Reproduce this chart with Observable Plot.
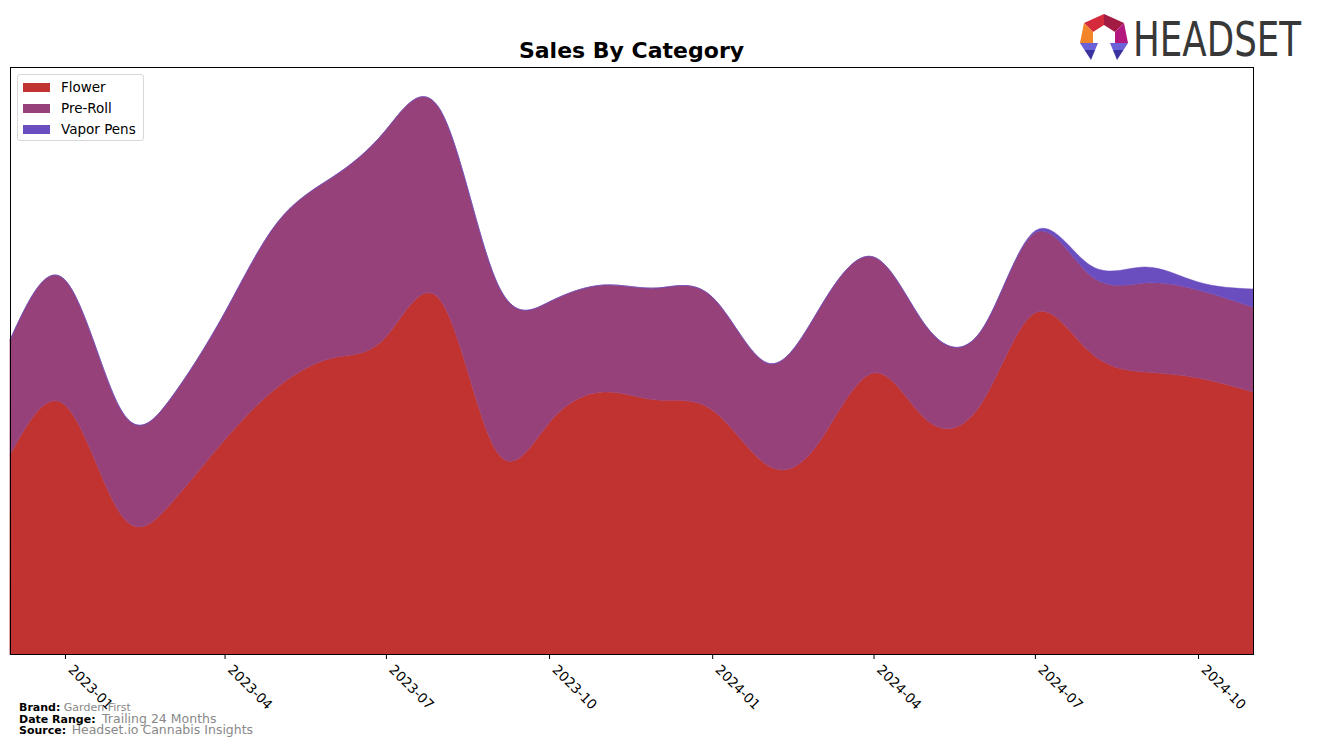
<!DOCTYPE html>
<html><head><meta charset="utf-8">
<script src="https://cdn.jsdelivr.net/npm/d3@7"></script>
<script src="https://cdn.jsdelivr.net/npm/@observablehq/plot@0.6"></script>
<style>
body{margin:0;background:#fff;font-family:"DejaVu Sans",sans-serif;}
#wrap{position:relative;width:1317px;height:747px;overflow:hidden;background:#fff}
#chart{position:absolute;left:0;top:0}
#title{position:absolute;left:10px;width:1243px;top:40px;text-align:center;font-weight:bold;font-size:22px;color:#000;line-height:1}
#legend{position:absolute;left:17px;top:74px;width:125px;height:65px;border:1px solid #d8d8d8;border-radius:3px;background:rgba(255,255,255,0.85)}
.li{position:absolute;left:5px;height:16px;font-size:13.5px;line-height:16px;color:#000}
.sw{position:absolute;left:0;top:4px;width:27px;height:9px}
.lt{position:absolute;left:38px;top:0;white-space:nowrap}
#footer{position:absolute;left:19px;top:701px;font-size:11px;line-height:11px;color:#000}
#footer div{position:absolute;left:0;white-space:nowrap}
#footer b{font-weight:bold}
.g{color:#888}
#logo{position:absolute;left:1078px;top:12px;overflow:visible}
</style></head>
<body>
<div id="wrap">
  <div id="chart"></div>
  <div id="title">Sales By Category</div>
  <div id="legend"></div>
  <div id="footer">
    <div style="top:1px"><b>Brand:</b> <span class="g" style="font-size:11px">Garden First</span></div>
    <div style="top:12px"><b>Date Range:</b> <span class="g" style="font-size:12.5px;margin-left:3px">Trailing 24 Months</span></div>
    <div style="top:23px"><b>Source:</b> <span class="g" style="font-size:12.5px;margin-left:2px">Headset.io Cannabis Insights</span></div>
  </div>
  <svg id="logo" width="239" height="52" viewBox="0 0 239 52">
    <polygon points="6,11 26,2 26,13 15,20" fill="#d42a3c"/>
    <polygon points="26,2 46,11 37,20 26,13" fill="#a31a42"/>
    <polygon points="46,11 50,31 37,31 37,20" fill="#b4187f"/>
    <polygon points="6,11 15,20 15,31 2,31" fill="#f2842a"/>
    <polygon points="2,31 20,31 17.1,38 6.5,38" fill="#6b62da"/>
    <polygon points="6.5,38 17.1,38 13,48" fill="#3a339f"/>
    <polygon points="32,31 50,31 45.5,38 34.9,38" fill="#6b62da"/>
    <polygon points="34.9,38 45.5,38 39,48" fill="#3a339f"/>
    <text x="74" y="44" transform="scale(0.743,1)" font-family="DejaVu Sans" font-size="48" fill="#383838">HEADSET</text>
  </svg>
</div>
<script>
const months = ["2022-12","2023-01","2023-02","2023-03","2023-04","2023-05","2023-06","2023-07","2023-08","2023-09","2023-10","2023-11","2023-12","2024-01","2024-02","2024-03","2024-04","2024-05","2024-06","2024-07","2024-08","2024-09","2024-10","2024-11"];
const categories = ["Flower","Pre-Roll","Vapor Pens"];
const flower    = [199,249,141,149,214,267,296,317,353,204,231,262,254,244,189,211,281,234,251,341,302,282,276,262];
const preRoll   = [115,125,105,105,127,165,181,207,190,170,121,107,112,113,102,133,116, 93, 73, 80, 77, 89, 88, 85];
const vaporPens = [  0,  0,  0,  0,  0,  0,  0,  0,  0,  0,  0,  0,  0,  0,  0,  0,  0,  0,  0,  2, 10, 16,  8, 18];
const tickLabels = ["2023-01","2023-04","2023-07","2023-10","2024-01","2024-04","2024-07","2024-10"];
const colors = ["#c03331","#96417a","#6a4dbe"];

const parse = d3.utcParse("%Y-%m");
const series = [flower, preRoll, vaporPens];
const data = months.flatMap((m, i) => categories.map((c, k) => ({date: parse(m), category: c, value: series[k][i]})));
const ticks = tickLabels.map(parse);

const chart = Plot.plot({
  width: 1317, height: 747,
  marginTop: 67, marginBottom: 93, marginLeft: 10, marginRight: 64,
  style: {fontFamily: "DejaVu Sans", fontSize: "13.5px", color: "#000", background: "transparent"},
  x: {type: "utc", domain: [parse(months[0]), parse(months[months.length - 1])]},
  y: {domain: [0, 587], axis: null},
  color: {domain: categories, range: colors},
  marks: [
    Plot.areaY(data, {x: "date", y: "value", fill: "category", curve: "natural", stroke: "category", strokeWidth: 0.5}),
    Plot.frame({stroke: "#000", strokeWidth: 1}),
    Plot.axisX(ticks, {tickSize: 5, tickFormat: () => "", stroke: "#000"}),
    Plot.axisX(ticks, {tickFormat: d3.utcFormat("%Y-%m"), tickRotate: 45, tickSize: 0, tickPadding: 13, dx: 5, fontSize: 13.5, fill: "#000"})
  ]
});
document.getElementById("chart").appendChild(chart);

const leg = document.getElementById("legend");
categories.forEach((c, i) => {
  const row = document.createElement("div");
  row.className = "li";
  row.style.top = (4 + i * 21) + "px";
  row.innerHTML = `<span class="sw" style="background:${colors[i]}"></span><span class="lt">${c}</span>`;
  leg.appendChild(row);
});
</script>
</body></html>
